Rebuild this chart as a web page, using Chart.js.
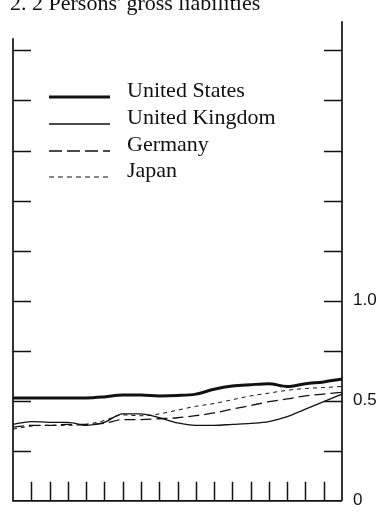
<!DOCTYPE html>
<html>
<head>
<meta charset="utf-8">
<script src="https://cdn.jsdelivr.net/npm/chart.js"></script>
<style>
  html, body { margin: 0; padding: 0; background: #fff; overflow: hidden; }
  #wrap { position: relative; width: 383px; height: 522px; }
  #title { position: absolute; left: 10px; top: -10px; font: 22px "Liberation Serif", serif; line-height: 25px; color: #111; white-space: nowrap; }
</style>
</head>
<body>
<div id="wrap">
  <canvas id="lineChart" width="383" height="522"></canvas>
  <div id="title">2. 2 Persons' gross liabilities</div>
</div>
<script>
// categorie (anni) - le etichette non sono mostrate nel grafico
var years = ['1970', '1971', '1972', '1973', '1974', '1975', '1976', '1977', '1978', '1979',
  '1980', '1981', '1982', '1983', '1984', '1985', '1986', '1987', '1988'];

var unitedStates = [0.514, 0.514, 0.514, 0.514, 0.514, 0.519, 0.528, 0.528, 0.524, 0.526,
  0.533, 0.557, 0.573, 0.580, 0.585, 0.571, 0.585, 0.594, 0.608];
var unitedKingdom = [0.382, 0.396, 0.392, 0.392, 0.377, 0.392, 0.434, 0.434, 0.415, 0.389,
  0.377, 0.377, 0.382, 0.387, 0.396, 0.420, 0.458, 0.495, 0.533];
var germany = [0.368, 0.377, 0.377, 0.382, 0.382, 0.387, 0.406, 0.406, 0.410, 0.415,
  0.425, 0.439, 0.458, 0.476, 0.495, 0.509, 0.524, 0.533, 0.542];
var japan = [0.358, 0.373, 0.377, 0.377, 0.382, 0.401, 0.429, 0.425, 0.434, 0.453,
  0.472, 0.486, 0.505, 0.524, 0.538, 0.552, 0.561, 0.566, 0.571];

// tacche asse y e etichette visibili
var yTicks = [0, 0.25, 0.5, 0.75, 1.0, 1.25, 1.5, 1.75, 2.0, 2.25];
var yTickLabels = { '0': '0', '0.5': '0.5', '1': '1.0' };
var yMax = 2.396;

var ink = '#111';

//disegna assi, tacche interne e legenda
var framePlugin = {
  id: 'frame',
  afterDatasetsDraw: function (chart) {
    var ctx = chart.ctx;
    var area = chart.chartArea;
    var y = chart.scales.y;
    var x = chart.scales.x;
    ctx.save();
    ctx.strokeStyle = ink;
    ctx.lineWidth = 1.7;
    ctx.beginPath();
    ctx.moveTo(area.left, area.top + 17);
    ctx.lineTo(area.left, area.bottom);
    ctx.lineTo(area.right, area.bottom);
    ctx.moveTo(area.right, area.top);
    ctx.lineTo(area.right, area.bottom);
    ctx.stroke();

    ctx.lineWidth = 1.5;
    ctx.beginPath();
    for (var i = 1; i < yTicks.length; i++) {
      var py = Math.round(y.getPixelForValue(yTicks[i])) + 0.5;
      ctx.moveTo(area.left, py);
      ctx.lineTo(area.left + 18, py);
      ctx.moveTo(area.right - 18, py);
      ctx.lineTo(area.right, py);
    }
    for (var j = 1; j < years.length - 1; j++) {
      var px = Math.round(x.getPixelForValue(j)) + 0.5;
      ctx.moveTo(px, area.bottom);
      ctx.lineTo(px, area.bottom - 19);
    }
    ctx.stroke();

    // legenda
    var rows = [97, 124, 151, 177];
    ctx.font = '22px "Liberation Serif", serif';
    ctx.fillStyle = ink;
    ctx.textBaseline = 'alphabetic';
    chart.data.datasets.forEach(function (ds, k) {
      ctx.strokeStyle = ink;
      ctx.lineWidth = ds.borderWidth;
      ctx.setLineDash(ds.legendDash || []);
      ctx.beginPath();
      ctx.moveTo(49, rows[k]);
      ctx.lineTo(110, rows[k]);
      ctx.stroke();
      ctx.setLineDash([]);
      ctx.fillText(ds.label, 127, rows[k]);
    });
    ctx.restore();
  }
};

var ctx = document.getElementById('lineChart').getContext('2d');

var lineChart = new Chart(ctx, {
  type: 'line',
  data: {
    labels: years,
    datasets: [
      { label: 'United States', data: unitedStates, borderColor: ink, borderWidth: 3 },
      { label: 'United Kingdom', data: unitedKingdom, borderColor: ink, borderWidth: 1.3 },
      { label: 'Germany', data: germany, borderColor: ink, borderWidth: 1.3, borderDash: [11, 5], legendDash: [13, 5] },
      { label: 'Japan', data: japan, borderColor: ink, borderWidth: 1, borderDash: [4, 4], legendDash: [5, 4] }
    ]
  },
  options: {
    responsive: false,
    animation: false,
    layout: { padding: { left: 13, top: 5, right: 0, bottom: 9 } },
    elements: {
      point: { radius: 0 },
      line: { tension: 0.4, cubicInterpolationMode: 'monotone', fill: false }
    },
    plugins: {
      legend: { display: false },
      title: { display: false },
      tooltip: { enabled: false }
    },
    scales: {
      x: { display: false, offset: false },
      y: {
        position: 'right',
        min: 0,
        max: yMax,
        grid: { display: false, drawTicks: false },
        border: { display: false },
        afterBuildTicks: function (scale) {
          scale.ticks = yTicks.map(function (v) { return { value: v }; });
        },
        afterFit: function (scale) {
          scale.width = 41;
        },
        ticks: {
          padding: 11,
          color: ink,
          font: { family: '"Liberation Sans", Arial, sans-serif', size: 17 },
          callback: function (value) {
            var key = String(value);
            return yTickLabels[key] !== undefined ? yTickLabels[key] : '';
          }
        }
      }
    }
  },
  plugins: [framePlugin]
});
</script>
</body>
</html>
